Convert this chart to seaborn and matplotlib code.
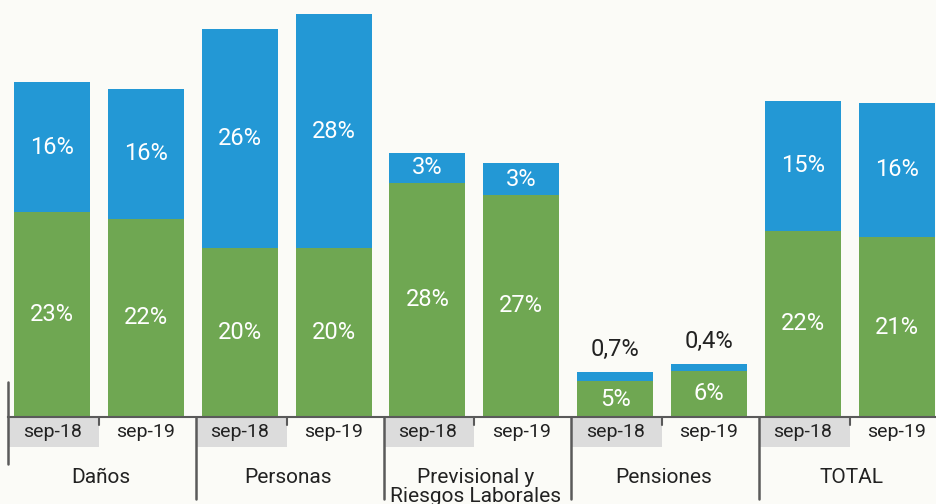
import seaborn as sns
import matplotlib.pyplot as plt
import pandas as pd
from matplotlib.patches import Rectangle

# data (bar heights in chart units, labels as printed)
groups = ["Daños", "Personas", "Previsional y\nRiesgos Laborales", "Pensiones", "TOTAL"]
periods = ["sep-18", "sep-19"]
green_vals = [20.5, 19.8, 16.9, 16.9, 23.4, 22.2, 3.6, 4.6, 18.6, 18.0]
blue_vals = [13.0, 13.0, 21.9, 23.4, 3.0, 3.2, 0.9, 0.7, 13.0, 13.4]
green_labels = ["23%", "22%", "20%", "20%", "28%", "27%", "5%", "6%", "22%", "21%"]
blue_labels = ["16%", "16%", "26%", "28%", "3%", "3%", "0,7%", "0,4%", "15%", "16%"]

bar_ids = [f"{g} {p}" for g in groups for p in periods]
df = pd.DataFrame({
    "bar": bar_ids,
    "green": green_vals,
    "total": [g + b for g, b in zip(green_vals, blue_vals)],
})

sns.set_style("white")
plt.rcParams["font.family"] = ["Roboto", "DejaVu Sans"]

BG = "#fbfbf7"
BLUE = "#2398d5"
GREEN = "#6fa752"
LINE = "#5a5a5a"
TXT = "#222222"

fig = plt.figure(figsize=(9.36, 5.04), dpi=100, facecolor=BG)
ax = fig.add_axes([8 / 936, 87 / 504, 928 / 936, 417 / 504])
ax.set_facecolor(BG)

sns.barplot(data=df, x="bar", y="total", order=bar_ids, color=BLUE,
            width=0.81, errorbar=None, saturation=1, linewidth=0, ax=ax)
sns.barplot(data=df, x="bar", y="green", order=bar_ids, color=GREEN,
            width=0.81, errorbar=None, saturation=1, linewidth=0, ax=ax)

ax.set_xlim(-0.47, 9.42)
ax.set_ylim(0, 41.7)
ax.set_xlabel("")
ax.set_ylabel("")
ax.set_yticks([])
ax.set_xticks(range(len(bar_ids)))
ax.set_xticklabels([])
ax.tick_params(axis="x", length=0)
for s in ["top", "right", "left"]:
    ax.spines[s].set_visible(False)
ax.spines["bottom"].set_color(LINE)
ax.spines["bottom"].set_linewidth(1.5)

# value labels
for i in range(len(bar_ids)):
    g = green_vals[i]
    b = blue_vals[i]
    ax.text(i, g / 2, green_labels[i], ha="center", va="center",
            color="white", fontsize=17)
    if b > 2:
        ax.text(i, g + b / 2, blue_labels[i], ha="center", va="center",
                color="white", fontsize=17)
    else:
        ax.text(i, g + b + 2.3, blue_labels[i], ha="center", va="center",
                color=TXT, fontsize=17)

trans = ax.get_xaxis_transform()
off = 0.035  # separators sit a touch right of the slot edge
# period labels with grey boxes behind the first period
for i in range(len(bar_ids)):
    if i % 2 == 0:
        ax.add_patch(Rectangle((i - 0.5 + off, -30 / 417), 1.0 - off, 29 / 417,
                               transform=trans, facecolor="#dcdcdc",
                               edgecolor="none", clip_on=False, zorder=1))
    ax.text(i, -15 / 417, periods[i % 2], transform=trans, ha="center",
            va="center", color=TXT, fontsize=14, zorder=3)

# minor ticks between periods, separators between groups
for k in range(len(groups)):
    ax.plot([2 * k + 0.5, 2 * k + 0.5], [0, -8 / 417], transform=trans,
            color=LINE, lw=1.5, clip_on=False)
    if k > 0:
        ax.plot([2 * k - 0.5 + off] * 2, [0, -82 / 417], transform=trans,
                color=LINE, lw=1.8, clip_on=False)
    ax.text(2 * k + 0.5 + off / 2, -51 / 417, groups[k], transform=trans,
            ha="center", va="top", color=TXT, fontsize=15, linespacing=1.0)
ax.plot([-0.5 + off] * 2, [35 / 417, -47 / 417], transform=trans,
        color=LINE, lw=1.8, clip_on=False)

fig.savefig("out.png", dpi=100, facecolor=BG)
